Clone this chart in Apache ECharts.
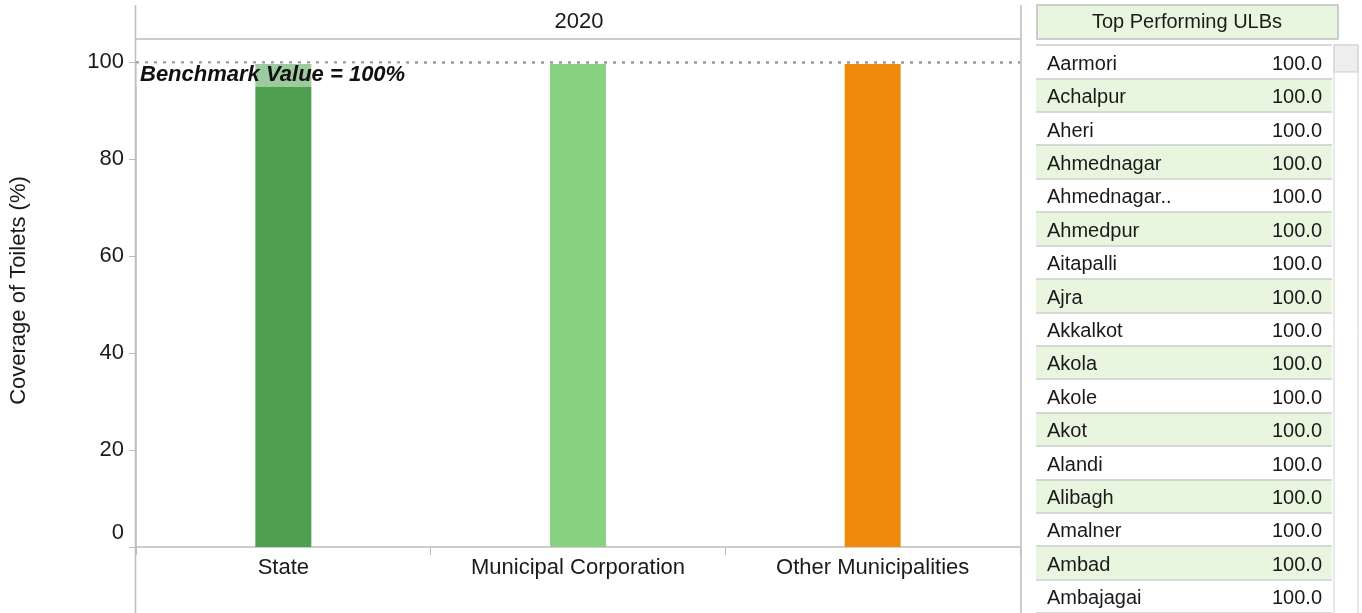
<!DOCTYPE html>
<html>
<head>
<meta charset="utf-8">
<script src="https://cdn.jsdelivr.net/npm/echarts@6/dist/echarts.min.js"></script>
<style>
html,body{margin:0;padding:0;background:#fff;}
#chart{width:1362px;height:613px;}
</style>
</head>
<body>
<div id="chart"></div>
<script>
// ---- data ----
var categories = ['State', 'Municipal Corporation', 'Other Municipalities'];
var coverage = [99.6, 99.6, 99.6];
var barColors = ['#4e9f50', '#87d180', '#ef8a0c'];
var yearLabel = '2020';
var benchmark = 100;
var yTicks = [0, 20, 40, 60, 80, 100];
var ulbNames = ['Aarmori', 'Achalpur', 'Aheri', 'Ahmednagar', 'Ahmednagar..', 'Ahmedpur', 'Aitapalli', 'Ajra', 'Akkalkot', 'Akola', 'Akole', 'Akot', 'Alandi', 'Alibagh', 'Amalner', 'Ambad', 'Ambajagai'];
var ulbValues = [100, 100, 100, 100, 100, 100, 100, 100, 100, 100, 100, 100, 100, 100, 100, 100, 100];

var FONT = '"Liberation Sans", Arial, sans-serif';
var FS = 22;   // chart text size
var TS = 20;   // table text size
var chart = echarts.init(document.getElementById('chart'));

var option = {
  backgroundColor: '#fff',
  textStyle: { fontFamily: FONT },
  animation: false,
  grid: [
    { left: 135, right: 342, top: 62, bottom: 66 },
    { left: 1036, width: 296, top: 45, height: 573 }
  ],
  xAxis: [
    {
      gridIndex: 0, type: 'category', data: categories,
      axisLine: { lineStyle: { color: '#bdbdbd', width: 1.5 } },
      axisTick: { show: true, length: 8, lineStyle: { color: '#bdbdbd' } },
      axisLabel: { fontSize: FS, color: '#1a1a1a', margin: 10, fontFamily: FONT }
    },
    { gridIndex: 1, type: 'value', min: 0, max: 100, show: false }
  ],
  yAxis: [
    {
      gridIndex: 0, type: 'value', min: yTicks[0], max: yTicks[yTicks.length - 1], interval: 20,
      name: 'Coverage of Toilets (%)', nameLocation: 'middle', nameGap: 106,
      nameTextStyle: { fontSize: FS, color: '#1a1a1a', fontFamily: FONT, padding: [0, 0, 0, 28] },
      axisLine: { show: true, lineStyle: { color: '#bdbdbd', width: 1.5 } },
      axisTick: { show: true, length: 7, lineStyle: { color: '#bdbdbd' } },
      splitLine: { show: false },
      axisLabel: {
        fontSize: FS, color: '#1a1a1a', margin: 12, fontFamily: FONT,
        formatter: function (v) { return v === 0 ? '{z|0}' : String(v); },
        rich: { z: { fontSize: FS, color: '#1a1a1a', fontFamily: FONT, padding: [0, 0, 28, 0] } }
      }
    },
    {
      gridIndex: 1, type: 'category', data: ulbNames, inverse: true,
      axisLine: { show: false }, axisTick: { show: false },
      axisLabel: {
        inside: true, margin: 11, fontSize: TS, color: '#1a1a1a', fontFamily: FONT, align: 'left',
        formatter: function (v) { return '{n|' + v + '}'; },
        rich: { n: { fontSize: TS, color: '#1a1a1a', fontFamily: FONT, padding: [5, 0, 0, 0] } }
      },
      splitLine: { show: true, interval: 0, lineStyle: { color: '#cccccc', width: 1.5 } },
      splitArea: { show: true, interval: 0, areaStyle: { color: ['#ffffff', '#e8f5df'] } }
    }
  ],
  series: [
    {
      type: 'bar', xAxisIndex: 0, yAxisIndex: 0, barWidth: 56,
      data: coverage.map(function (v, i) { return { value: v, itemStyle: { color: barColors[i] } }; }),
      markLine: {
        silent: true, symbol: 'none',
        lineStyle: { type: [3, 6], color: '#999', width: 2.5 },
        label: {
          show: true, position: 'insideStartBottom', distance: [0, 1],
          formatter: 'Benchmark Value = ' + benchmark + '%',
          fontSize: FS, fontWeight: 'bold', fontStyle: 'italic', color: '#111', fontFamily: FONT,
          backgroundColor: 'rgba(255,255,255,0.45)', padding: [1, 2, 1, 4]
        },
        data: [{ yAxis: benchmark }]
      }
    },
    {
      type: 'bar', xAxisIndex: 1, yAxisIndex: 1, barWidth: '100%',
      data: ulbValues,
      itemStyle: { color: 'rgba(0,0,0,0)' },
      label: {
        show: true, position: 'insideRight', distance: 10, offset: [0, 2.5],
        formatter: function (p) { return p.value.toFixed(1); },
        fontSize: TS, color: '#1a1a1a', fontFamily: FONT
      }
    }
  ],
  graphic: [
    // pane frame lines
    { type: 'line', shape: { x1: 135.5, y1: 5, x2: 135.5, y2: 613 }, style: { stroke: '#bdbdbd', lineWidth: 1.5 }, z: 10 },
    { type: 'line', shape: { x1: 1021, y1: 5, x2: 1021, y2: 613 }, style: { stroke: '#bdbdbd', lineWidth: 1.5 }, z: 10 },
    { type: 'line', shape: { x1: 135, y1: 39, x2: 1021, y2: 39 }, style: { stroke: '#bdbdbd', lineWidth: 1.5 }, z: 10 },
    { type: 'text', x: 579, y: 22, style: { text: yearLabel, font: FS + 'px ' + FONT, fill: '#1a1a1a', textAlign: 'center', textVerticalAlign: 'middle' }, z: 10 },
    // table header
    { type: 'rect', shape: { x: 1037, y: 5, width: 301, height: 34 }, style: { fill: '#e8f5df', stroke: '#c0c0c0', lineWidth: 1.5 }, z: 10 },
    { type: 'text', x: 1187, y: 22, style: { text: 'Top Performing ULBs', font: TS + 'px ' + FONT, fill: '#1a1a1a', textAlign: 'center', textVerticalAlign: 'middle' }, z: 11 },
    // scrollbar
    { type: 'rect', shape: { x: 1334, y: 45, width: 24, height: 570 }, style: { fill: '#fff', stroke: '#cfcfcf', lineWidth: 1 }, z: 10 },
    { type: 'rect', shape: { x: 1334, y: 45, width: 24, height: 27 }, style: { fill: '#eeeeee', stroke: '#cfcfcf', lineWidth: 1 }, z: 11 }
  ]
};
chart.setOption(option);
</script>
</body>
</html>
